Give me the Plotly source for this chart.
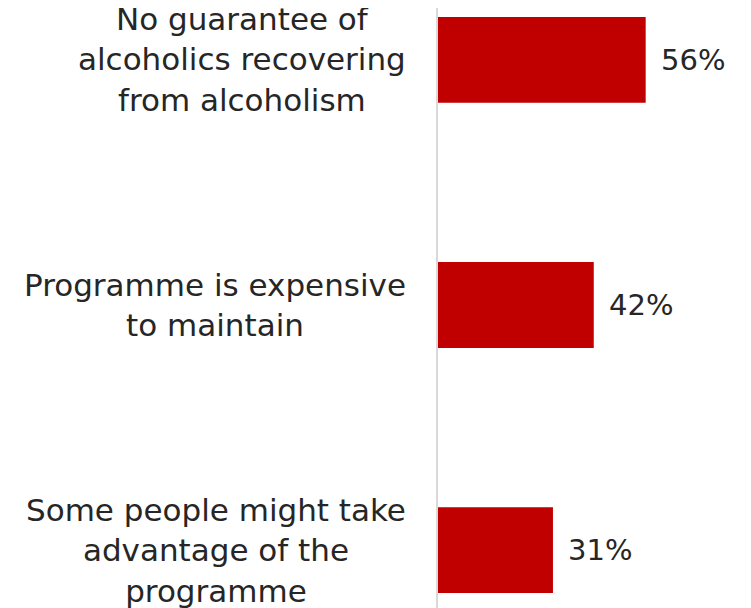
import plotly.graph_objects as go

categories = [
    "No guarantee of<br>alcoholics recovering<br>from alcoholism",
    "Programme is expensive<br>to maintain",
    "Some people might take<br>advantage of the<br>programme",
]
values = [56, 42, 31]
labels = ["56%", "42%", "31%"]

FONT = "DejaVu Sans"
TEXT = "#262626"

fig = go.Figure(
    go.Bar(
        x=values,
        y=categories,
        orientation="h",
        marker=dict(color="#C00000", line=dict(width=0)),
        width=0.35,
        hoverinfo="skip",
    )
)

# category labels (centered multi-line, right edge 30px left of axis)
for cat in categories:
    fig.add_annotation(
        x=0, xref="paper", y=cat, yref="y",
        text=cat, showarrow=False,
        xanchor="right", yanchor="middle", align="center",
        xshift=-30,
        font=dict(size=31, color=TEXT, family=FONT),
    )

# value labels
for cat, v, lab in zip(categories, values, labels):
    fig.add_annotation(
        x=v, xref="x", y=cat, yref="y",
        text=lab, showarrow=False,
        xanchor="left", yanchor="middle",
        xshift=13,
        font=dict(size=29, color=TEXT, family=FONT),
    )

fig.update_layout(
    width=743,
    height=600,
    margin=dict(l=430, r=0, t=0, b=0, autoexpand=False),
    paper_bgcolor="white",
    plot_bgcolor="white",
    showlegend=False,
    font=dict(family=FONT, size=31, color=TEXT),
    xaxis=dict(range=[0, 84.4], visible=False, showgrid=False, zeroline=False,
               automargin=False),
    yaxis=dict(
        categoryorder="array",
        categoryarray=categories,
        range=[2.2367, -0.2122],
        showline=True,
        linecolor="#D9D9D9",
        linewidth=2,
        showgrid=False,
        ticks="",
        showticklabels=False,
        automargin=False,
    ),
)

fig.write_html("out.html")
